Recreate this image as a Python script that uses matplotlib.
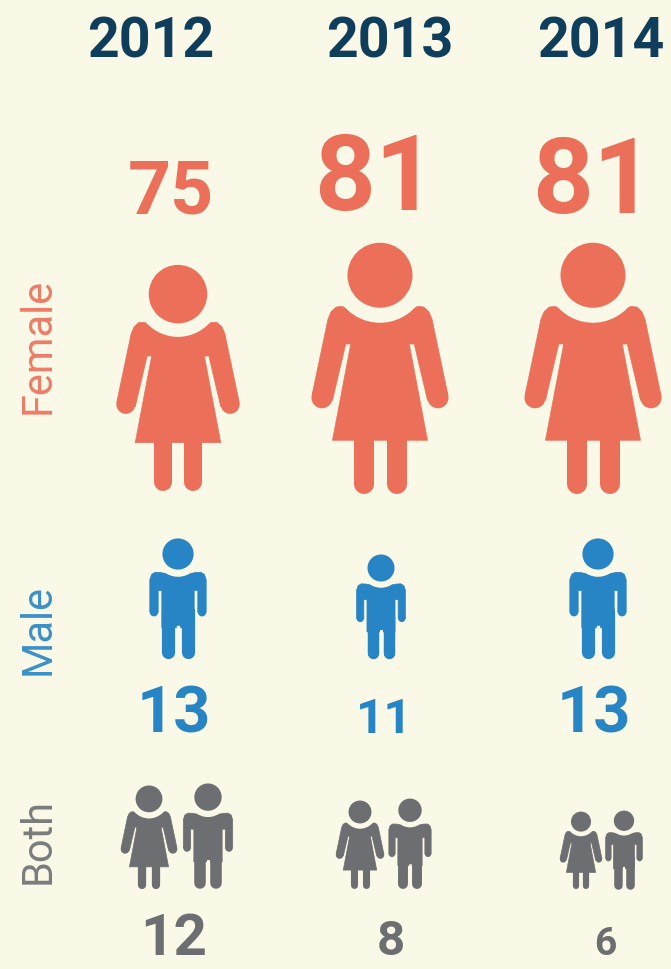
import matplotlib
matplotlib.use('Agg')
import matplotlib.pyplot as plt
from matplotlib.patches import Circle, Polygon

years = ['2012', '2013', '2014']
female_values = [75, 81, 81]
male_values = [13, 11, 13]
both_values = [12, 8, 6]
row_labels = ['Female', 'Male', 'Both']

BG = '#FAF8E6'
SALMON = '#EC6F5A'
BLUE = '#2785C6'
GREY = '#6D6E71'
NAVY = '#0F3D5C'
FONT = 'Roboto'


def mirror(points):
    # left half of an outline, goes down the left side then up the right side
    return points + [(-x, y) for x, y in reversed(points)]


FEMALE_BODY = [(-0.10, 0.27), (-0.125, 0.262), (-0.15, 0.25), (-0.175, 0.252), (-0.195, 0.27), (-0.208, 0.30),
               (-0.272, 0.605), (-0.19, 0.625), (-0.137, 0.40), (-0.117, 0.40), (-0.19, 0.785)]
MALE_BODY = [(-0.12, 0.285), (-0.14, 0.28), (-0.19, 0.277), (-0.22, 0.295), (-0.235, 0.34), (-0.235, 0.61),
             (-0.165, 0.61), (-0.165, 0.43), (-0.135, 0.43), (-0.135, 0.74)]


def draw_person(ax, cx, top, bottom, color, body, hand_x, hand_y, hand_r, leg_x, leg_w, leg_top):
    h = bottom - top

    def px(x, y):
        return (cx + x * h, top + y * h)

    ax.add_patch(Polygon([px(x, y) for x, y in mirror(body)], closed=True, facecolor=color,
                         edgecolor=color, linewidth=0.5, joinstyle='round'))
    for side in (-1, 1):
        ax.add_patch(Circle(px(side * hand_x, hand_y), hand_r * h, color=color, linewidth=0))
        # legs are a thick line with round ends
        x0, y0 = px(side * leg_x, leg_top)
        x1, y1 = px(side * leg_x, 1 - leg_w / 2)
        ax.plot([x0, x1], [y0, y1], color=color, lw=leg_w * h * 0.72, solid_capstyle='round')
    # gap round the neck, then the head
    ax.add_patch(Circle(px(0, 0.125), 0.19 * h, color=BG, linewidth=0, zorder=3))
    ax.add_patch(Circle(px(0, 0.125), 0.13 * h, color=color, linewidth=0, zorder=4))


def draw_female(ax, cx, top, bottom, color):
    draw_person(ax, cx, top, bottom, color, FEMALE_BODY, 0.232, 0.615, 0.042, 0.066, 0.08, 0.75)


def draw_male(ax, cx, top, bottom, color):
    draw_person(ax, cx, top, bottom, color, MALE_BODY, 0.2, 0.61, 0.035, 0.08, 0.11, 0.6)
    # slit between the legs
    h = bottom - top
    ax.plot([cx, cx], [top + 0.73 * h, bottom], color=BG, lw=0.028 * h * 0.72, zorder=3)


def number(ax, x, baseline, text, color, cap_h, cap_ratio=0.77):
    # Roboto is wider than the original face, so the big numbers run a bit short
    size = cap_h / cap_ratio * 0.72
    ax.text(x, baseline, text, color=color, fontsize=size, fontweight='bold', family=FONT,
            ha='center', va='baseline')


def main():
    fig = plt.figure(figsize=(6.71, 9.70), dpi=100, facecolor=BG)
    ax = fig.add_axes([0, 0, 1, 1])
    ax.set_xlim(0, 671)
    ax.set_ylim(970, 0)
    ax.axis('off')

    # headings
    for x, year in zip([151, 390, 601], years):
        number(ax, x, 57, year, NAVY, 39.5, cap_ratio=0.711)

    # female row
    female_cx = [178, 380, 593]
    female_top = [267, 245, 245]
    female_bottom = [492, 495, 495]
    for i in range(3):
        draw_female(ax, female_cx[i], female_top[i], female_bottom[i], SALMON)
    for x, base, cap, v in zip([171, 375, 593], [213, 210, 213], [58, 82, 82], female_values):
        number(ax, x, base, str(v), SALMON, cap)

    # male row
    male_cx = [178, 381, 598]
    male_top = [540, 556, 540]
    for i in range(3):
        draw_male(ax, male_cx[i], male_top[i], 660, BLUE)
    for x, cap, v in zip([174, 384, 594], [50, 38, 50], male_values):
        number(ax, x, 733, str(v), BLUE, cap)

    # both row
    pair_f_cx = [149, 360, 581]
    pair_m_cx = [208, 410, 624]
    pair_f_top = [787, 802, 813]
    pair_m_top = [785, 800, 812]
    for i in range(3):
        draw_female(ax, pair_f_cx[i], pair_f_top[i], 890, GREY)
        draw_male(ax, pair_m_cx[i], pair_m_top[i], 890, GREY)
    for x, cap, v in zip([174, 391, 605], [45, 38, 30], both_values):
        number(ax, x, 955, str(v), GREY, cap)

    # row labels on the left
    for y, label, color in zip([346, 630, 841], row_labels, [SALMON, BLUE, GREY]):
        ax.text(38, y, label, color=color, fontsize=30, family=FONT, rotation=90,
                ha='center', va='center', alpha=0.9)

    fig.savefig('out.png', dpi=100)


if __name__ == '__main__':
    main()
